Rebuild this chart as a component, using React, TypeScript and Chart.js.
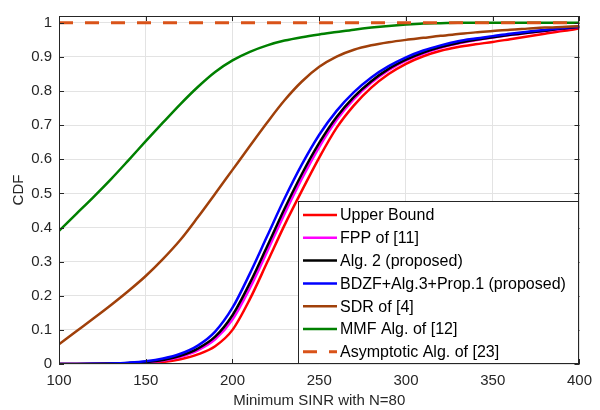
import React, { useEffect, useRef } from "react";
import { Chart, registerables } from "chart.js";

Chart.register(...registerables);

// Minimum SINR grid (x values)
const sinrGrid = [100, 110, 120, 130, 140, 150, 160, 170, 180, 190, 200, 210, 220, 230, 240, 250, 260, 270, 280, 290, 300, 310, 320, 330, 340, 350, 360, 370, 380, 390, 400];

// CDF values
const upperBound = [0, 0.0001, 0.0003, 0.0006, 0.0012, 0.0025, 0.006, 0.014, 0.028, 0.052, 0.1, 0.19, 0.298, 0.407, 0.508, 0.605, 0.692, 0.758, 0.81, 0.85, 0.88, 0.902, 0.918, 0.929, 0.937, 0.944, 0.952, 0.96, 0.968, 0.976, 0.983];
const fppOf11 = [0, 0.0002, 0.0005, 0.0012, 0.0025, 0.005, 0.01, 0.021, 0.04, 0.072, 0.13, 0.222, 0.33, 0.44, 0.543, 0.636, 0.715, 0.776, 0.824, 0.861, 0.889, 0.91, 0.927, 0.939, 0.949, 0.957, 0.964, 0.97, 0.976, 0.982, 0.987];
const alg2 = [0, 0.0002, 0.0006, 0.0014, 0.003, 0.006, 0.012, 0.024, 0.045, 0.08, 0.143, 0.237, 0.345, 0.455, 0.557, 0.648, 0.724, 0.783, 0.829, 0.865, 0.892, 0.913, 0.929, 0.941, 0.95, 0.958, 0.965, 0.971, 0.977, 0.983, 0.988];
const bdzf = [0, 0.0003, 0.0008, 0.0018, 0.004, 0.008, 0.016, 0.03, 0.054, 0.095, 0.165, 0.265, 0.375, 0.485, 0.585, 0.672, 0.742, 0.797, 0.84, 0.873, 0.899, 0.919, 0.934, 0.946, 0.954, 0.961, 0.968, 0.974, 0.979, 0.985, 0.989];
const sdrOf4 = [0.058, 0.096, 0.134, 0.173, 0.214, 0.258, 0.308, 0.364, 0.43, 0.499, 0.569, 0.639, 0.708, 0.773, 0.828, 0.871, 0.901, 0.921, 0.934, 0.943, 0.95, 0.956, 0.962, 0.967, 0.972, 0.976, 0.98, 0.983, 0.986, 0.988, 0.99];
const mmfOf12 = [0.39, 0.44, 0.49, 0.542, 0.597, 0.653, 0.708, 0.762, 0.812, 0.856, 0.89, 0.915, 0.934, 0.948, 0.958, 0.966, 0.973, 0.98, 0.986, 0.991, 0.995, 0.998, 0.999, 1, 1, 1, 1, 1, 1, 1, 1];
const asymptotic = [1, 1, 1, 1, 1, 1, 1, 1, 1, 1, 1, 1, 1, 1, 1, 1, 1, 1, 1, 1, 1, 1, 1, 1, 1, 1, 1, 1, 1, 1, 1];

const xTickValues = [100, 150, 200, 250, 300, 350, 400];
const yTickValues = [0, 0.1, 0.2, 0.3, 0.4, 0.5, 0.6, 0.7, 0.8, 0.9, 1];
const yTickLabels = ["0", "0.1", "0.2", "0.3", "0.4", "0.5", "0.6", "0.7", "0.8", "0.9", "1"];

const seriesLabels = [
  "Upper Bound",
  "FPP of [11]",
  "Alg. 2 (proposed)",
  "BDZF+Alg.3+Prop.1 (proposed)",
  "SDR of [4]",
  "MMF Alg. of [12]",
  "Asymptotic Alg. of [23]",
];
const seriesColors = ["#FF0000", "#FF00FF", "#000000", "#0000FF", "#A0400A", "#008000", "#D95319"];

const xTitle = "Minimum SINR with N=80";
const yTitle = "CDF";

const FONT = '"Liberation Sans", Arial, Helvetica, sans-serif';
const AXIS_COLOR = "#262626";
const GRID_COLOR = "#E3E3E3";

export default function App() {
  const ref = useRef<HTMLCanvasElement>(null);

  useEffect(() => {
    const series = [upperBound, fppOf11, alg2, bdzf, sdrOf4, mmfOf12, asymptotic];
    const datasets = series.map((vals, i) => ({
      label: seriesLabels[i],
      data: sinrGrid.map((x, j) => ({ x, y: vals[j] })),
      borderColor: seriesColors[i],
      backgroundColor: seriesColors[i],
      borderWidth: i === 6 ? 3 : 2.5,
      borderDash: i === 6 ? [14, 12] : [],
      pointRadius: 0,
      cubicInterpolationMode: "monotone" as const,
      fill: false,
      order: 10 - i,
    }));

    const framePlugin = {
      id: "frame",
      afterDatasetsDraw(chart: any) {
        const { ctx, chartArea: a, scales } = chart;
        ctx.save();
        ctx.strokeStyle = AXIS_COLOR;
        ctx.lineWidth = 1;
        ctx.strokeRect(Math.round(a.left) + 0.5, Math.round(a.top) + 0.5, Math.round(a.right - a.left) - 1, Math.round(a.bottom - a.top) - 1);
        const tl = 5;
        ctx.beginPath();
        for (const t of scales.x.ticks) {
          const px = Math.round(scales.x.getPixelForValue(t.value)) + 0.5;
          ctx.moveTo(px, a.bottom);
          ctx.lineTo(px, a.bottom - tl);
          ctx.moveTo(px, a.top);
          ctx.lineTo(px, a.top + tl);
        }
        for (const t of scales.y.ticks) {
          const py = Math.round(scales.y.getPixelForValue(t.value)) + 0.5;
          ctx.moveTo(a.left, py);
          ctx.lineTo(a.left + tl, py);
          ctx.moveTo(a.right, py);
          ctx.lineTo(a.right - tl, py);
        }
        ctx.stroke();
        ctx.restore();
      },
      afterDraw(chart: any) {
        const { ctx, chartArea: a } = chart;
        const w = 280;
        const h = 162;
        const x1 = Math.round(a.right) - 1;
        const y1 = Math.round(a.bottom) - 1;
        const x0 = x1 - w;
        const y0 = y1 - h;
        ctx.save();
        ctx.fillStyle = "#FFFFFF";
        ctx.fillRect(x0, y0, w, h);
        ctx.strokeStyle = AXIS_COLOR;
        ctx.lineWidth = 1;
        ctx.strokeRect(x0 + 0.5, y0 + 0.5, w, h);
        ctx.font = `16px ${FONT}`;
        ctx.textBaseline = "middle";
        ctx.textAlign = "left";
        chart.data.datasets.forEach((ds: any, i: number) => {
          const cy = y0 + 14 + i * 22.8;
          ctx.beginPath();
          ctx.strokeStyle = ds.borderColor;
          ctx.lineWidth = ds.borderWidth;
          ctx.setLineDash(ds.borderDash || []);
          ctx.moveTo(x0 + 5, cy);
          ctx.lineTo(x0 + 39, cy);
          ctx.stroke();
          ctx.setLineDash([]);
          ctx.fillStyle = "#000000";
          ctx.fillText(ds.label, x0 + 42, cy + 1);
        });
        ctx.restore();
      },
    };

    const chart = new Chart(ref.current as HTMLCanvasElement, {
      type: "line",
      data: { datasets: datasets as any },
      options: {
        animation: false,
        responsive: false,
        maintainAspectRatio: false,
        devicePixelRatio: 1,
        layout: { padding: { left: 0, right: 15, top: 13, bottom: 0 } },
        plugins: {
          legend: { display: false },
          tooltip: { enabled: false },
        },
        scales: {
          x: {
            type: "linear",
            min: 100,
            max: 400,
            ticks: { font: { family: FONT, size: 15 }, color: AXIS_COLOR, padding: 8, maxRotation: 0 },
            afterBuildTicks: (s: any) => {
              s.ticks = xTickValues.map((v) => ({ value: v }));
            },
            grid: { color: GRID_COLOR, lineWidth: 1, drawTicks: false },
            border: { display: false },
            title: { display: true, text: xTitle, font: { family: FONT, size: 15 }, color: AXIS_COLOR, padding: { top: 0, bottom: 0 } },
            afterFit: (s: any) => {
              s.height = 46;
            },
          },
          y: {
            type: "linear",
            min: 0,
            max: 1.02,
            ticks: {
              font: { family: FONT, size: 15 },
              color: AXIS_COLOR,
              padding: 7,
              callback: (_v: any, idx: number) => yTickLabels[idx],
            },
            afterBuildTicks: (s: any) => {
              s.ticks = yTickValues.map((v) => ({ value: v }));
            },
            grid: { color: GRID_COLOR, lineWidth: 1, drawTicks: false },
            border: { display: false },
            title: { display: true, text: yTitle, font: { family: FONT, size: 15 }, color: AXIS_COLOR, padding: { top: 10, bottom: 0 } },
            afterFit: (s: any) => {
              s.width = 59;
            },
          },
        },
      },
      plugins: [framePlugin],
    });
    return () => chart.destroy();
  }, []);

  return (
    <div style={{ position: "absolute", left: 0, top: 0, width: 600, height: 410, background: "#FFFFFF" }}>
      <canvas ref={ref} width={600} height={410} style={{ display: "block" }} />
    </div>
  );
}
